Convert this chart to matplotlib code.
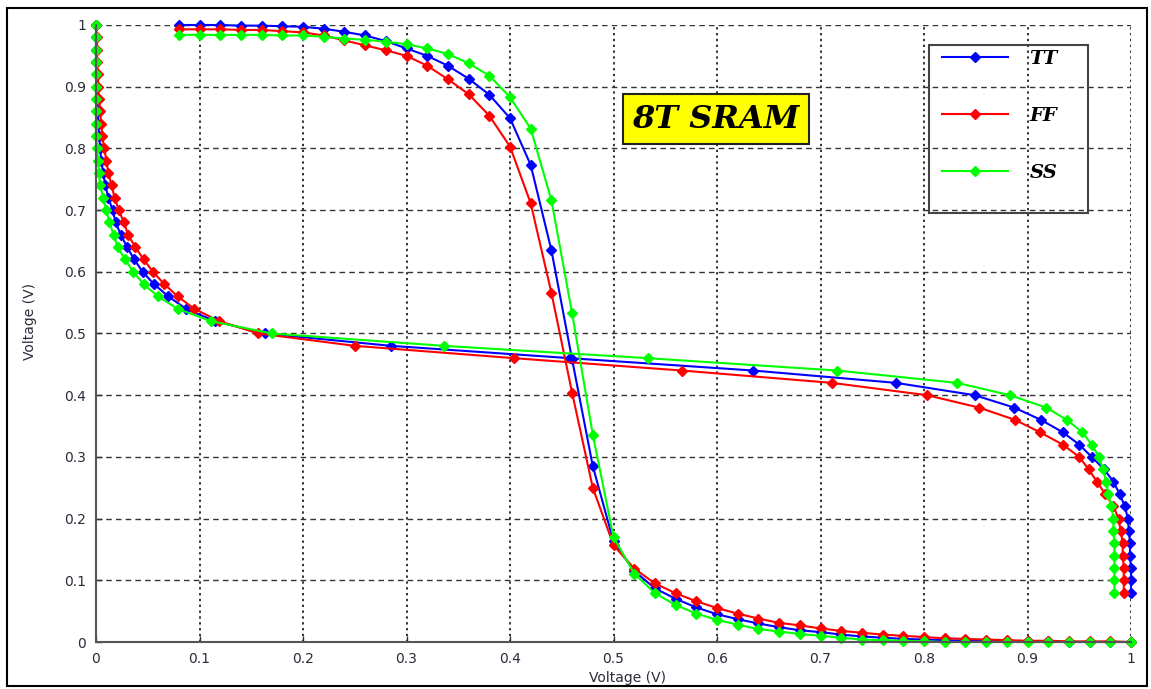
import matplotlib
matplotlib.use('Agg')
import matplotlib.pyplot as plt
from matplotlib.patches import Rectangle

# input sweep (V) and the measured output for each process corner
vin = [0.08, 0.10, 0.12, 0.14, 0.16, 0.18, 0.20, 0.22, 0.24, 0.26, 0.28, 0.30,
       0.32, 0.34, 0.36, 0.38, 0.40, 0.42, 0.44, 0.46, 0.48, 0.50, 0.52, 0.54,
       0.56, 0.58, 0.60, 0.62, 0.64, 0.66, 0.68, 0.70, 0.72, 0.74, 0.76, 0.78,
       0.80, 0.82, 0.84, 0.86, 0.88, 0.90, 0.92, 0.94, 0.96, 0.98, 1.00]

vout_tt = [1.000, 1.000, 1.000, 0.999, 0.999, 0.998, 0.997, 0.994, 0.989, 0.983,
           0.974, 0.962, 0.950, 0.934, 0.913, 0.887, 0.849, 0.773, 0.635, 0.458,
           0.285, 0.163, 0.115, 0.087, 0.070, 0.056, 0.045, 0.037, 0.030, 0.024,
           0.019, 0.016, 0.012, 0.009, 0.007, 0.005, 0.004, 0.003, 0.002, 0.002,
           0.001, 0.001, 0.001, 0.000, 0.000, 0.000, 0.000]

vout_ff = [0.993, 0.993, 0.993, 0.992, 0.992, 0.990, 0.988, 0.983, 0.975, 0.967,
           0.959, 0.950, 0.934, 0.912, 0.888, 0.853, 0.803, 0.711, 0.566, 0.404,
           0.250, 0.157, 0.119, 0.095, 0.079, 0.066, 0.055, 0.046, 0.038, 0.031,
           0.027, 0.022, 0.018, 0.015, 0.012, 0.010, 0.008, 0.006, 0.005, 0.004,
           0.003, 0.002, 0.002, 0.001, 0.001, 0.001, 0.000]

vout_ss = [0.984, 0.984, 0.984, 0.984, 0.984, 0.983, 0.983, 0.981, 0.978, 0.976,
           0.973, 0.969, 0.962, 0.953, 0.938, 0.918, 0.883, 0.832, 0.716, 0.533,
           0.336, 0.170, 0.111, 0.079, 0.060, 0.046, 0.036, 0.028, 0.021, 0.017,
           0.013, 0.010, 0.007, 0.004, 0.003, 0.002, 0.001, 0.000, 0.000, 0.000,
           0.000, 0.000, 0.000, 0.000, 0.000, 0.000, 0.000]

corners = ['TT', 'FF', 'SS']
colors = ['#0000ff', '#ff0000', '#00ff00']
ticks = [0, 0.1, 0.2, 0.3, 0.4, 0.5, 0.6, 0.7, 0.8, 0.9, 1]
tick_labels = ['0', '0.1', '0.2', '0.3', '0.4', '0.5', '0.6', '0.7', '0.8', '0.9', '1']

fig = plt.figure(figsize=(11.51, 6.89), dpi=100)
ax = fig.add_axes([96 / 1151, 1 - 642 / 689, 1035 / 1151, 617 / 689])

handles = []
for name, vout, c in zip(corners, [vout_tt, vout_ff, vout_ss], colors):
    # butterfly: the VTC and its mirror
    h, = ax.plot(vin, vout, color=c, lw=1.5, marker='D', ms=5.5, mec=c, mfc=c,
                 clip_on=False, label=name)
    ax.plot(vout, vin, color=c, lw=1.5, marker='D', ms=5.5, mec=c, mfc=c,
            clip_on=False)
    handles.append(h)

ax.set_xlim(0, 1)
ax.set_ylim(0, 1)
ax.set_xticks(ticks)
ax.set_xticklabels(tick_labels)
ax.set_yticks(ticks)
ax.set_yticklabels(tick_labels)
ax.tick_params(direction='in', length=4, width=1, pad=7, labelsize=10,
               colors='#333333', labelcolor='#2b2b3a')
ax.set_axisbelow(True)

# matlab-ish grid: dashed horizontals, dotted verticals
ax.yaxis.grid(True, color='#333333', linestyle=(0, (4, 3)), linewidth=1)
ax.xaxis.grid(True, color='#333333', linestyle=(0, (1.2, 1.8)), linewidth=1.4)

for s in ['top', 'right']:
    ax.spines[s].set_visible(False)
for s in ['left', 'bottom']:
    ax.spines[s].set_color('#555555')
    ax.spines[s].set_linewidth(1.5)

ax.set_xlabel('Voltage (V)', fontsize=10, color='#2b2b3a')
ax.set_ylabel('Voltage (V)', fontsize=10, color='#2b2b3a')
ax.xaxis.set_label_coords(0.514, -0.047)
ax.yaxis.label.set_va('center')
ax.yaxis.set_label_coords(-0.064, 0.52)

ax.text(0.599, 0.847, '8T SRAM', transform=ax.transAxes, fontsize=23,
        family='DejaVu Serif', weight='bold', style='italic',
        ha='center', va='center',
        bbox=dict(boxstyle='square,pad=0.3', fc='#ffff00', ec='#222222', lw=1.5))

# legend with its own frame
fig.patches.append(Rectangle((929 / 1151, 1 - 213 / 689), 159 / 1151, 168 / 689,
                             transform=fig.transFigure, fill=False,
                             ec='#444444', lw=1.5))
ax.legend(handles=handles, loc='upper left', bbox_to_anchor=(942 / 1151, 1 - 50 / 689),
          bbox_transform=fig.transFigure, frameon=False, borderpad=0,
          borderaxespad=0, handlelength=3.4, handletextpad=1.1, labelspacing=2.0,
          markerscale=0.9,
          prop=dict(family='DejaVu Serif', weight='bold', style='italic', size=14))

# outer border of the picture
fig.patches.append(Rectangle((7 / 1151, 3 / 689), 1140 / 1151, 678 / 689,
                             transform=fig.transFigure, fill=False,
                             ec='black', lw=1.5))

fig.savefig('out.png', dpi=100)
